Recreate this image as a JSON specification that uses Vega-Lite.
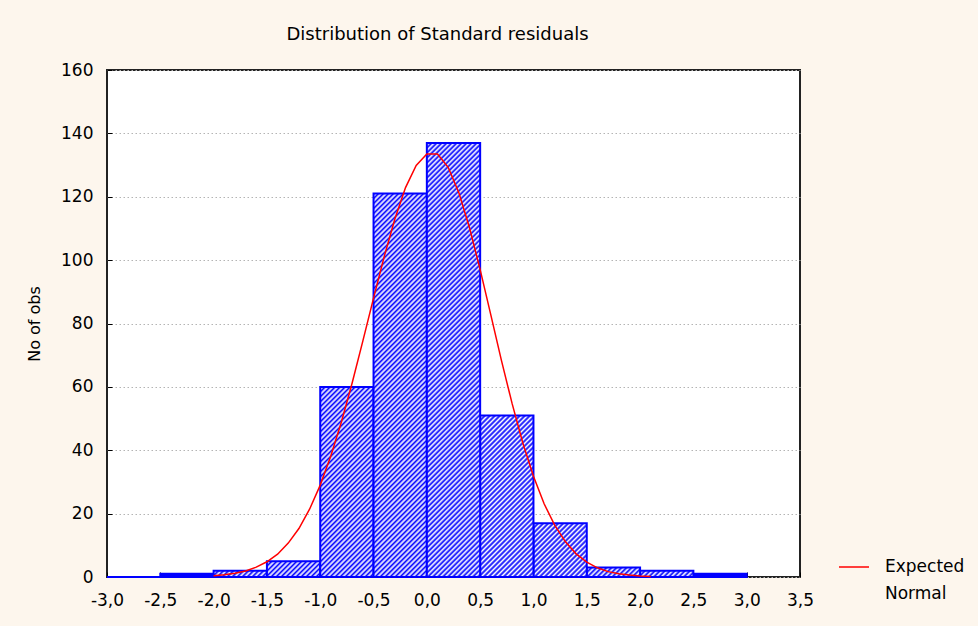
{
"$schema":"https://vega.github.io/schema/vega-lite/v6.json",
"width":693,"height":507,
"autosize":{"type":"none"},
"padding":{"left":107,"top":70,"right":178,"bottom":49},
"background":"#fdf6ed",
"config":{"view":{"fill":"#ffffff","stroke":"#222222","strokeWidth":2},"font":"DejaVu Sans"},
"title":{"text":"Distribution of Standard residuals","anchor":"middle","dx":-16,"offset":17,"fontSize":18,"fontWeight":"normal","font":"DejaVu Sans","color":"#000000"},
"params":[{"name":"hatch","value":[
{"offset":0,"color":"#00f"},{"offset":0.005,"color":"#fff"},
{"offset":0.01,"color":"#00f"},{"offset":0.015,"color":"#fff"},
{"offset":0.02,"color":"#00f"},{"offset":0.025,"color":"#fff"},
{"offset":0.03,"color":"#00f"},{"offset":0.035,"color":"#fff"},
{"offset":0.04,"color":"#00f"},{"offset":0.045,"color":"#fff"},
{"offset":0.05,"color":"#00f"},{"offset":0.055,"color":"#fff"},
{"offset":0.06,"color":"#00f"},{"offset":0.065,"color":"#fff"},
{"offset":0.07,"color":"#00f"},{"offset":0.075,"color":"#fff"},
{"offset":0.08,"color":"#00f"},{"offset":0.085,"color":"#fff"},
{"offset":0.09,"color":"#00f"},{"offset":0.095,"color":"#fff"},
{"offset":0.10,"color":"#00f"},{"offset":0.105,"color":"#fff"},
{"offset":0.11,"color":"#00f"},{"offset":0.115,"color":"#fff"},
{"offset":0.12,"color":"#00f"},{"offset":0.125,"color":"#fff"},
{"offset":0.13,"color":"#00f"},{"offset":0.135,"color":"#fff"},
{"offset":0.14,"color":"#00f"},{"offset":0.145,"color":"#fff"},
{"offset":0.15,"color":"#00f"},{"offset":0.155,"color":"#fff"},
{"offset":0.16,"color":"#00f"},{"offset":0.165,"color":"#fff"},
{"offset":0.17,"color":"#00f"},{"offset":0.175,"color":"#fff"},
{"offset":0.18,"color":"#00f"},{"offset":0.185,"color":"#fff"},
{"offset":0.19,"color":"#00f"},{"offset":0.195,"color":"#fff"},
{"offset":0.20,"color":"#00f"},{"offset":0.205,"color":"#fff"},
{"offset":0.21,"color":"#00f"},{"offset":0.215,"color":"#fff"},
{"offset":0.22,"color":"#00f"},{"offset":0.225,"color":"#fff"},
{"offset":0.23,"color":"#00f"},{"offset":0.235,"color":"#fff"},
{"offset":0.24,"color":"#00f"},{"offset":0.245,"color":"#fff"},
{"offset":0.25,"color":"#00f"},{"offset":0.255,"color":"#fff"},
{"offset":0.26,"color":"#00f"},{"offset":0.265,"color":"#fff"},
{"offset":0.27,"color":"#00f"},{"offset":0.275,"color":"#fff"},
{"offset":0.28,"color":"#00f"},{"offset":0.285,"color":"#fff"},
{"offset":0.29,"color":"#00f"},{"offset":0.295,"color":"#fff"},
{"offset":0.30,"color":"#00f"},{"offset":0.305,"color":"#fff"},
{"offset":0.31,"color":"#00f"},{"offset":0.315,"color":"#fff"},
{"offset":0.32,"color":"#00f"},{"offset":0.325,"color":"#fff"},
{"offset":0.33,"color":"#00f"},{"offset":0.335,"color":"#fff"},
{"offset":0.34,"color":"#00f"},{"offset":0.345,"color":"#fff"},
{"offset":0.35,"color":"#00f"},{"offset":0.355,"color":"#fff"},
{"offset":0.36,"color":"#00f"},{"offset":0.365,"color":"#fff"},
{"offset":0.37,"color":"#00f"},{"offset":0.375,"color":"#fff"},
{"offset":0.38,"color":"#00f"},{"offset":0.385,"color":"#fff"},
{"offset":0.39,"color":"#00f"},{"offset":0.395,"color":"#fff"},
{"offset":0.40,"color":"#00f"},{"offset":0.405,"color":"#fff"},
{"offset":0.41,"color":"#00f"},{"offset":0.415,"color":"#fff"},
{"offset":0.42,"color":"#00f"},{"offset":0.425,"color":"#fff"},
{"offset":0.43,"color":"#00f"},{"offset":0.435,"color":"#fff"},
{"offset":0.44,"color":"#00f"},{"offset":0.445,"color":"#fff"},
{"offset":0.45,"color":"#00f"},{"offset":0.455,"color":"#fff"},
{"offset":0.46,"color":"#00f"},{"offset":0.465,"color":"#fff"},
{"offset":0.47,"color":"#00f"},{"offset":0.475,"color":"#fff"},
{"offset":0.48,"color":"#00f"},{"offset":0.485,"color":"#fff"},
{"offset":0.49,"color":"#00f"},{"offset":0.495,"color":"#fff"},
{"offset":0.50,"color":"#00f"},{"offset":0.505,"color":"#fff"},
{"offset":0.51,"color":"#00f"},{"offset":0.515,"color":"#fff"},
{"offset":0.52,"color":"#00f"},{"offset":0.525,"color":"#fff"},
{"offset":0.53,"color":"#00f"},{"offset":0.535,"color":"#fff"},
{"offset":0.54,"color":"#00f"},{"offset":0.545,"color":"#fff"},
{"offset":0.55,"color":"#00f"},{"offset":0.555,"color":"#fff"},
{"offset":0.56,"color":"#00f"},{"offset":0.565,"color":"#fff"},
{"offset":0.57,"color":"#00f"},{"offset":0.575,"color":"#fff"},
{"offset":0.58,"color":"#00f"},{"offset":0.585,"color":"#fff"},
{"offset":0.59,"color":"#00f"},{"offset":0.595,"color":"#fff"},
{"offset":0.60,"color":"#00f"},{"offset":0.605,"color":"#fff"},
{"offset":0.61,"color":"#00f"},{"offset":0.615,"color":"#fff"},
{"offset":0.62,"color":"#00f"},{"offset":0.625,"color":"#fff"},
{"offset":0.63,"color":"#00f"},{"offset":0.635,"color":"#fff"},
{"offset":0.64,"color":"#00f"},{"offset":0.645,"color":"#fff"},
{"offset":0.65,"color":"#00f"},{"offset":0.655,"color":"#fff"},
{"offset":0.66,"color":"#00f"},{"offset":0.665,"color":"#fff"},
{"offset":0.67,"color":"#00f"},{"offset":0.675,"color":"#fff"},
{"offset":0.68,"color":"#00f"},{"offset":0.685,"color":"#fff"},
{"offset":0.69,"color":"#00f"},{"offset":0.695,"color":"#fff"},
{"offset":0.70,"color":"#00f"},{"offset":0.705,"color":"#fff"},
{"offset":0.71,"color":"#00f"},{"offset":0.715,"color":"#fff"},
{"offset":0.72,"color":"#00f"},{"offset":0.725,"color":"#fff"},
{"offset":0.73,"color":"#00f"},{"offset":0.735,"color":"#fff"},
{"offset":0.74,"color":"#00f"},{"offset":0.745,"color":"#fff"},
{"offset":0.75,"color":"#00f"},{"offset":0.755,"color":"#fff"},
{"offset":0.76,"color":"#00f"},{"offset":0.765,"color":"#fff"},
{"offset":0.77,"color":"#00f"},{"offset":0.775,"color":"#fff"},
{"offset":0.78,"color":"#00f"},{"offset":0.785,"color":"#fff"},
{"offset":0.79,"color":"#00f"},{"offset":0.795,"color":"#fff"},
{"offset":0.80,"color":"#00f"},{"offset":0.805,"color":"#fff"},
{"offset":0.81,"color":"#00f"},{"offset":0.815,"color":"#fff"},
{"offset":0.82,"color":"#00f"},{"offset":0.825,"color":"#fff"},
{"offset":0.83,"color":"#00f"},{"offset":0.835,"color":"#fff"},
{"offset":0.84,"color":"#00f"},{"offset":0.845,"color":"#fff"},
{"offset":0.85,"color":"#00f"},{"offset":0.855,"color":"#fff"},
{"offset":0.86,"color":"#00f"},{"offset":0.865,"color":"#fff"},
{"offset":0.87,"color":"#00f"},{"offset":0.875,"color":"#fff"},
{"offset":0.88,"color":"#00f"},{"offset":0.885,"color":"#fff"},
{"offset":0.89,"color":"#00f"},{"offset":0.895,"color":"#fff"},
{"offset":0.90,"color":"#00f"},{"offset":0.905,"color":"#fff"},
{"offset":0.91,"color":"#00f"},{"offset":0.915,"color":"#fff"},
{"offset":0.92,"color":"#00f"},{"offset":0.925,"color":"#fff"},
{"offset":0.93,"color":"#00f"},{"offset":0.935,"color":"#fff"},
{"offset":0.94,"color":"#00f"},{"offset":0.945,"color":"#fff"},
{"offset":0.95,"color":"#00f"},{"offset":0.955,"color":"#fff"},
{"offset":0.96,"color":"#00f"},{"offset":0.965,"color":"#fff"},
{"offset":0.97,"color":"#00f"},{"offset":0.975,"color":"#fff"},
{"offset":0.98,"color":"#00f"},{"offset":0.985,"color":"#fff"},
{"offset":0.99,"color":"#00f"},{"offset":0.995,"color":"#fff"},
{"offset":1,"color":"#00f"}
]}],
"datasets":{
"bins":[
{"lo":-3.0,"hi":-2.5,"count":0},
{"lo":-2.5,"hi":-2.0,"count":1},
{"lo":-2.0,"hi":-1.5,"count":2},
{"lo":-1.5,"hi":-1.0,"count":5},
{"lo":-1.0,"hi":-0.5,"count":60},
{"lo":-0.5,"hi":0.0,"count":121},
{"lo":0.0,"hi":0.5,"count":137},
{"lo":0.5,"hi":1.0,"count":51},
{"lo":1.0,"hi":1.5,"count":17},
{"lo":1.5,"hi":2.0,"count":3},
{"lo":2.0,"hi":2.5,"count":2},
{"lo":2.5,"hi":3.0,"count":1}
],
"curve":[
{"z":-2.0,"expected":0.4,"series":"Expected Normal"},
{"z":-1.9,"expected":0.7,"series":"Expected Normal"},
{"z":-1.8,"expected":1.2,"series":"Expected Normal"},
{"z":-1.7,"expected":1.9,"series":"Expected Normal"},
{"z":-1.6,"expected":3.1,"series":"Expected Normal"},
{"z":-1.5,"expected":4.8,"series":"Expected Normal"},
{"z":-1.4,"expected":7.2,"series":"Expected Normal"},
{"z":-1.3,"expected":10.7,"series":"Expected Normal"},
{"z":-1.2,"expected":15.3,"series":"Expected Normal"},
{"z":-1.1,"expected":21.4,"series":"Expected Normal"},
{"z":-1.0,"expected":29.0,"series":"Expected Normal"},
{"z":-0.9,"expected":38.3,"series":"Expected Normal"},
{"z":-0.8,"expected":49.1,"series":"Expected Normal"},
{"z":-0.7,"expected":61.3,"series":"Expected Normal"},
{"z":-0.6,"expected":74.5,"series":"Expected Normal"},
{"z":-0.5,"expected":88.0,"series":"Expected Normal"},
{"z":-0.4,"expected":101.1,"series":"Expected Normal"},
{"z":-0.3,"expected":113.0,"series":"Expected Normal"},
{"z":-0.2,"expected":122.9,"series":"Expected Normal"},
{"z":-0.1,"expected":129.9,"series":"Expected Normal"},
{"z":0.0,"expected":133.5,"series":"Expected Normal"},
{"z":0.1,"expected":133.5,"series":"Expected Normal"},
{"z":0.2,"expected":129.3,"series":"Expected Normal"},
{"z":0.3,"expected":121.3,"series":"Expected Normal"},
{"z":0.4,"expected":110.2,"series":"Expected Normal"},
{"z":0.5,"expected":97.0,"series":"Expected Normal"},
{"z":0.6,"expected":82.7,"series":"Expected Normal"},
{"z":0.7,"expected":68.3,"series":"Expected Normal"},
{"z":0.8,"expected":54.7,"series":"Expected Normal"},
{"z":0.9,"expected":42.3,"series":"Expected Normal"},
{"z":1.0,"expected":31.8,"series":"Expected Normal"},
{"z":1.1,"expected":23.1,"series":"Expected Normal"},
{"z":1.2,"expected":16.3,"series":"Expected Normal"},
{"z":1.3,"expected":11.1,"series":"Expected Normal"},
{"z":1.4,"expected":7.3,"series":"Expected Normal"},
{"z":1.5,"expected":4.7,"series":"Expected Normal"},
{"z":1.6,"expected":2.9,"series":"Expected Normal"},
{"z":1.7,"expected":1.7,"series":"Expected Normal"},
{"z":1.8,"expected":1.0,"series":"Expected Normal"},
{"z":1.9,"expected":0.6,"series":"Expected Normal"},
{"z":2.0,"expected":0.3,"series":"Expected Normal"},
{"z":2.1,"expected":0.15,"series":"Expected Normal"}
]},
"layer":[
{"data":{"name":"bins"},
 "encoding":{
  "x":{"field":"lo","type":"quantitative","scale":{"domain":[-3,3.5],"nice":false,"zero":false},
       "axis":{"title":null,"values":[-3,-2.5,-2,-1.5,-1,-0.5,0,0.5,1,1.5,2,2.5,3,3.5],"grid":false,"domain":false,"ticks":true,"tickSize":-5,"tickColor":"#000000","labelPadding":20,"labelExpr":"replace(replace(format(datum.value,'.1f'),'.',','),'\u2212','-')","labelFont":"DejaVu Sans","labelFontSize":17,"labelColor":"#000000","labelFlush":false,"labelOverlap":false}},
  "x2":{"field":"hi"},
  "y":{"field":"count","type":"quantitative","scale":{"domain":[0,160],"nice":false},
       "axis":{"title":"No of obs","values":[0,20,40,60,80,100,120,140,160],"format":"d","grid":true,"gridColor":"#b4b4b4","gridDash":[1.5,2.5],"gridWidth":1,"domain":false,"ticks":true,"tickSize":-5,"tickColor":"#000000","labelPadding":19,"labelFont":"DejaVu Sans","labelFontSize":17,"labelColor":"#000000","titleFont":"DejaVu Sans","titleFontSize":16,"titleFontWeight":"normal","titleColor":"#000000","titlePadding":18}},
  "y2":{"datum":0}
 },
 "layer":[
  {"transform":[{"filter":"datum.count <= 1"}],"mark":{"type":"bar","fill":"#0000ff","stroke":"#0000ff","strokeWidth":2}},
  {"transform":[{"filter":"datum.lo == -2.0 || datum.lo == 2.0"}],"mark":{"type":"bar","stroke":"#0000ff","strokeWidth":2,"fill":{"expr":"{gradient:'linear',x1:0,y1:0,x2:9.248,y2:1.0994,stops:hatch}"}}},
  {"transform":[{"filter":"datum.lo == 1.5"}],"mark":{"type":"bar","stroke":"#0000ff","strokeWidth":2,"fill":{"expr":"{gradient:'linear',x1:0,y1:0,x2:9.090,y2:1.6209,stops:hatch}"}}},
  {"transform":[{"filter":"datum.lo == -1.5"}],"mark":{"type":"bar","stroke":"#0000ff","strokeWidth":2,"fill":{"expr":"{gradient:'linear',x1:0,y1:0,x2:8.618,y2:2.5613,stops:hatch}"}}},
  {"transform":[{"filter":"datum.lo == 1.0"}],"mark":{"type":"bar","stroke":"#0000ff","strokeWidth":2,"fill":{"expr":"{gradient:'linear',x1:0,y1:0,x2:4.6406,y2:4.6893,stops:hatch}"}}},
  {"transform":[{"filter":"datum.lo == 0.5"}],"mark":{"type":"bar","stroke":"#0000ff","strokeWidth":2,"fill":{"expr":"{gradient:'linear',x1:0,y1:0,x2:0.92046,y2:2.7903,stops:hatch}"}}},
  {"transform":[{"filter":"datum.lo == -1.0"}],"mark":{"type":"bar","stroke":"#0000ff","strokeWidth":2,"fill":{"expr":"{gradient:'linear',x1:0,y1:0,x2:0.68365,y2:2.4382,stops:hatch}"}}},
  {"transform":[{"filter":"datum.lo == -0.5"}],"mark":{"type":"bar","stroke":"#0000ff","strokeWidth":2,"fill":{"expr":"{gradient:'linear',x1:0,y1:0,x2:0.17788,y2:1.27931,stops:hatch}"}}},
  {"transform":[{"filter":"datum.lo == 0.0"}],"mark":{"type":"bar","stroke":"#0000ff","strokeWidth":2,"fill":{"expr":"{gradient:'linear',x1:0,y1:0,x2:0.13934,y2:1.13465,stops:hatch}"}}}
 ]
},
{"data":{"name":"curve"},
 "mark":{"type":"line","strokeWidth":1.5,"interpolate":"linear"},
 "encoding":{
  "x":{"field":"z","type":"quantitative","scale":{"domain":[-3,3.5],"nice":false,"zero":false}},
  "y":{"field":"expected","type":"quantitative","scale":{"domain":[0,160],"nice":false}},
  "stroke":{"field":"series","type":"nominal","scale":{"range":["#ff0000"]},
    "legend":{"orient":"none","legendX":731,"legendY":481,"title":null,"padding":0,"symbolType":"stroke","symbolSize":900,"symbolStrokeWidth":1.5,"labelFont":"DejaVu Sans","labelFontSize":17,"labelColor":"#000000","labelOffset":15,"labelLimit":300,"labelExpr":"['Expected','Normal']",
      "encode":{"labels":{"update":{"lineHeight":{"value":27}}}}}}
 }
}
]
}
